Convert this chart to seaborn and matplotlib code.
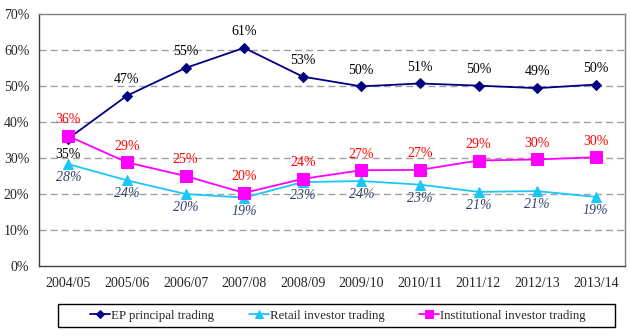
import matplotlib
matplotlib.use("Agg")
import matplotlib.pyplot as plt
import seaborn as sns
import pandas as pd
from matplotlib.patches import Rectangle
from matplotlib.ticker import FixedLocator, PercentFormatter

years = ["2004/05", "2005/06", "2006/07", "2007/08", "2008/09",
         "2009/10", "2010/11", "2011/12", "2012/13", "2013/14"]
ep_principal = [35.4, 47.3, 55.0, 60.6, 52.6, 49.9, 50.7, 50.1, 49.4, 50.4]
retail = [28.3, 23.8, 20.0, 19.0, 23.3, 23.6, 22.6, 20.6, 20.8, 19.2]
institutional = [36.1, 28.8, 25.0, 20.3, 24.2, 26.6, 26.7, 29.3, 29.6, 30.2]
series_names = ["EP principal trading", "Retail investor trading", "Institutional investor trading"]

sns.set_style("white")
plt.rcParams['font.family'] = ['Liberation Serif', 'DejaVu Serif']

df = pd.DataFrame({
    "year": years * 3,
    "share": ep_principal + retail + institutional,
    "series": [series_names[0]] * 10 + [series_names[1]] * 10 + [series_names[2]] * 10,
})
df["x"] = list(range(10)) * 3

W, H = 630, 336
fig = plt.figure(figsize=(6.3, 3.36), dpi=100)
ax = fig.add_axes([39 / W, 1 - 266 / H, (625 - 39) / W, (266 - 14) / H])

palette = {series_names[0]: "#000080", series_names[1]: "#1AC8F5", series_names[2]: "#FF00FF"}
markers = {series_names[0]: "D", series_names[1]: "^", series_names[2]: "s"}
msizes = {series_names[0]: 5, series_names[1]: 7, series_names[2]: 8}

for name in series_names:
    sub = df[df["series"] == name]
    sns.lineplot(data=sub, x="x", y="share", ax=ax, color=palette[name],
                 marker=markers[name], markersize=msizes[name],
                 markeredgecolor=palette[name], linewidth=1.3, label=name, legend=False)

fs = 10
for i, v in enumerate(ep_principal):
    if i == 0:
        ax.annotate(f"{v:.0f}%", (i, v), xytext=(0, -7), textcoords="offset points",
                    ha="center", va="top", fontsize=fs, color="black")
    else:
        ax.annotate(f"{v:.0f}%", (i, v), xytext=(0, 7), textcoords="offset points",
                    ha="center", va="bottom", fontsize=fs, color="black")
for i, v in enumerate(institutional):
    ax.annotate(f"{v:.0f}%", (i, v), xytext=(0, 7), textcoords="offset points",
                ha="center", va="bottom", fontsize=fs, color="#FF0000")
for i, v in enumerate(retail):
    ax.annotate(f"{v:.0f}%", (i, v), xytext=(0, -5), textcoords="offset points",
                ha="center", va="top", fontsize=fs, color="#333F6A", style="italic")

ax.set_xlim(-0.5, 9.5)
ax.set_ylim(0, 70)
ax.set_yticks(range(0, 71, 10))
ax.yaxis.set_major_formatter(PercentFormatter(decimals=0))
ax.set_xticks(range(10))
ax.set_xticklabels(years)
ax.xaxis.set_minor_locator(FixedLocator([i - 0.5 for i in range(11)]))
ax.tick_params(axis="x", which="major", length=0, pad=8, labelsize=fs)
ax.tick_params(axis="x", which="minor", length=4, width=1, color="#404040", direction="out")
ax.tick_params(axis="y", which="major", length=4, width=1, color="#404040", direction="out",
               labelsize=fs, pad=3)
ax.set_xlabel("")
ax.set_ylabel("")

for y in range(10, 70, 10):
    ax.axhline(y, color="#A0A0A0", linestyle=(0, (5, 3)), linewidth=1, zorder=0)

ax.spines["left"].set_color("#404040")
ax.spines["bottom"].set_color("#404040")
ax.spines["top"].set_color("#808080")
ax.spines["right"].set_color("#808080")
for s in ax.spines.values():
    s.set_linewidth(1)
    s.set_visible(True)

# legend frame
fig.patches.append(Rectangle((58 / W, 1 - 327 / H), (615 - 58) / W, 23 / H,
                             transform=fig.transFigure, fill=False,
                             edgecolor="black", linewidth=1))

handles, labels = ax.get_legend_handles_labels()
leg = fig.legend(handles, labels, loc="center", bbox_to_anchor=(338 / W, 1 - 315.5 / H), ncol=3,
                 frameon=False, fontsize=9.3,
                 handlelength=1.55, columnspacing=2.7, handletextpad=0.05,
                 borderpad=0.2, markerscale=0.8, borderaxespad=0)

fig.savefig("out.png", dpi=100)
